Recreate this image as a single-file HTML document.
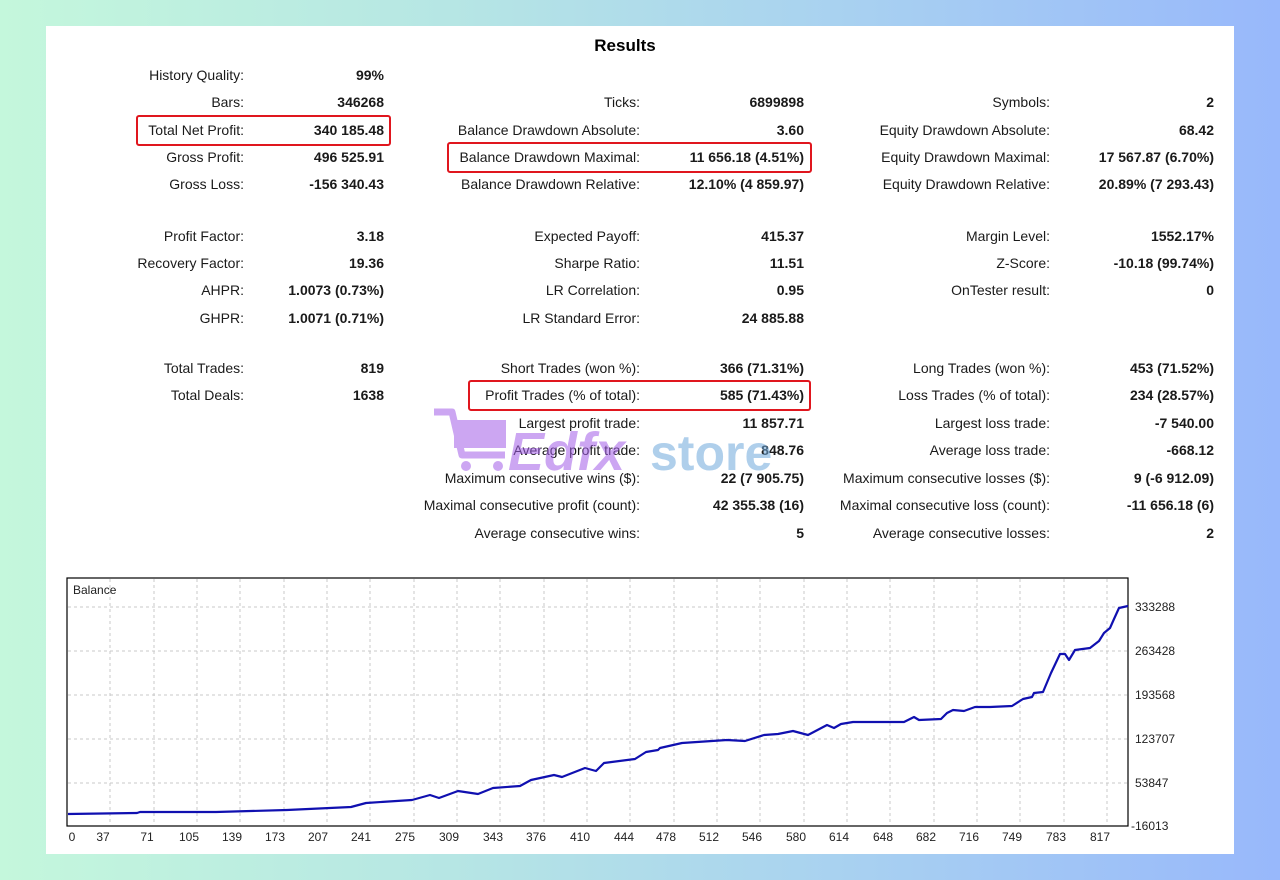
<!DOCTYPE html>
<html><head><meta charset="utf-8"><style>
html,body{margin:0;padding:0;}
body{width:1280px;height:880px;overflow:hidden;background:linear-gradient(90deg,#c4f7dc 0%,#b6e6e4 35%,#a9d2f0 65%,#98b8fb 100%);position:relative;font-family:"Liberation Sans",sans-serif;}
svg{position:absolute;left:0;top:0;}
</style></head><body>
<svg width="1280" height="880" viewBox="0 0 1280 880" font-family="Liberation Sans, sans-serif">
<rect x="46" y="26" width="1188" height="828" fill="#fff"/>
<text x="625" y="51" font-size="17" font-weight="bold" text-anchor="middle" fill="#000">Results</text>
<g font-size="14" fill="#1a1a1a">
<g text-anchor="end">
<text x="244" y="80">History Quality:</text><text x="384" y="80" font-weight="bold">99%</text>
<text x="244" y="107">Bars:</text><text x="384" y="107" font-weight="bold">346268</text>
<text x="244" y="135">Total Net Profit:</text><text x="384" y="135" font-weight="bold">340 185.48</text>
<text x="244" y="162">Gross Profit:</text><text x="384" y="162" font-weight="bold">496 525.91</text>
<text x="244" y="189">Gross Loss:</text><text x="384" y="189" font-weight="bold">-156 340.43</text>
<text x="244" y="241">Profit Factor:</text><text x="384" y="241" font-weight="bold">3.18</text>
<text x="244" y="268">Recovery Factor:</text><text x="384" y="268" font-weight="bold">19.36</text>
<text x="244" y="295">AHPR:</text><text x="384" y="295" font-weight="bold">1.0073 (0.73%)</text>
<text x="244" y="323">GHPR:</text><text x="384" y="323" font-weight="bold">1.0071 (0.71%)</text>
<text x="244" y="373">Total Trades:</text><text x="384" y="373" font-weight="bold">819</text>
<text x="244" y="400">Total Deals:</text><text x="384" y="400" font-weight="bold">1638</text>

<text x="640" y="107">Ticks:</text><text x="804" y="107" font-weight="bold">6899898</text>
<text x="640" y="135">Balance Drawdown Absolute:</text><text x="804" y="135" font-weight="bold">3.60</text>
<text x="640" y="162">Balance Drawdown Maximal:</text><text x="804" y="162" font-weight="bold">11 656.18 (4.51%)</text>
<text x="640" y="189">Balance Drawdown Relative:</text><text x="804" y="189" font-weight="bold">12.10% (4 859.97)</text>
<text x="640" y="241">Expected Payoff:</text><text x="804" y="241" font-weight="bold">415.37</text>
<text x="640" y="268">Sharpe Ratio:</text><text x="804" y="268" font-weight="bold">11.51</text>
<text x="640" y="295">LR Correlation:</text><text x="804" y="295" font-weight="bold">0.95</text>
<text x="640" y="323">LR Standard Error:</text><text x="804" y="323" font-weight="bold">24 885.88</text>
<text x="640" y="373">Short Trades (won %):</text><text x="804" y="373" font-weight="bold">366 (71.31%)</text>
<text x="640" y="400">Profit Trades (% of total):</text><text x="804" y="400" font-weight="bold">585 (71.43%)</text>
<text x="640" y="428">Largest profit trade:</text><text x="804" y="428" font-weight="bold">11 857.71</text>
<text x="640" y="455">Average profit trade:</text><text x="804" y="455" font-weight="bold">848.76</text>
<text x="640" y="483">Maximum consecutive wins ($):</text><text x="804" y="483" font-weight="bold">22 (7 905.75)</text>
<text x="640" y="510">Maximal consecutive profit (count):</text><text x="804" y="510" font-weight="bold">42 355.38 (16)</text>
<text x="640" y="538">Average consecutive wins:</text><text x="804" y="538" font-weight="bold">5</text>

<text x="1050" y="107">Symbols:</text><text x="1214" y="107" font-weight="bold">2</text>
<text x="1050" y="135">Equity Drawdown Absolute:</text><text x="1214" y="135" font-weight="bold">68.42</text>
<text x="1050" y="162">Equity Drawdown Maximal:</text><text x="1214" y="162" font-weight="bold">17 567.87 (6.70%)</text>
<text x="1050" y="189">Equity Drawdown Relative:</text><text x="1214" y="189" font-weight="bold">20.89% (7 293.43)</text>
<text x="1050" y="241">Margin Level:</text><text x="1214" y="241" font-weight="bold">1552.17%</text>
<text x="1050" y="268">Z-Score:</text><text x="1214" y="268" font-weight="bold">-10.18 (99.74%)</text>
<text x="1050" y="295">OnTester result:</text><text x="1214" y="295" font-weight="bold">0</text>
<text x="1050" y="373">Long Trades (won %):</text><text x="1214" y="373" font-weight="bold">453 (71.52%)</text>
<text x="1050" y="400">Loss Trades (% of total):</text><text x="1214" y="400" font-weight="bold">234 (28.57%)</text>
<text x="1050" y="428">Largest loss trade:</text><text x="1214" y="428" font-weight="bold">-7 540.00</text>
<text x="1050" y="455">Average loss trade:</text><text x="1214" y="455" font-weight="bold">-668.12</text>
<text x="1050" y="483">Maximum consecutive losses ($):</text><text x="1214" y="483" font-weight="bold">9 (-6 912.09)</text>
<text x="1050" y="510">Maximal consecutive loss (count):</text><text x="1214" y="510" font-weight="bold">-11 656.18 (6)</text>
<text x="1050" y="538">Average consecutive losses:</text><text x="1214" y="538" font-weight="bold">2</text>
</g></g>
<g fill="none" stroke="#e0161e" stroke-width="2">
<rect x="137" y="116" width="253" height="29" rx="2"/>
<rect x="448" y="143" width="363" height="29" rx="2"/>
<rect x="469" y="381" width="341" height="29" rx="2"/>
</g>
<!-- watermark -->
<g opacity="0.55">
<path d="M434 412 L452 412 L462 455 L505 455" fill="none" stroke="#a35ee8" stroke-width="7" stroke-linejoin="round"/>
<rect x="454" y="420" width="52" height="28" fill="#a35ee8"/>
<circle cx="466" cy="466" r="5" fill="#a35ee8"/><circle cx="498" cy="466" r="5" fill="#a35ee8"/>
<text x="508" y="470" font-size="54" font-weight="bold" font-style="italic" fill="#a35ee8">Edfx</text>
<text x="650" y="470" font-size="50" font-weight="bold" fill="#6fa8dc">store</text>
</g>
<!-- chart -->
<rect x="67" y="578" width="1061" height="248" fill="#fff" stroke="#000" stroke-width="1.2"/>
<g stroke="#c8c8c8" stroke-width="1" stroke-dasharray="3,3">
<line x1="68" x2="1127" y1="607" y2="607"/><line x1="68" x2="1127" y1="651" y2="651"/><line x1="68" x2="1127" y1="695" y2="695"/><line x1="68" x2="1127" y1="739" y2="739"/><line x1="68" x2="1127" y1="783" y2="783"/>
<line x1="110" x2="110" y1="579" y2="825"/><line x1="154" x2="154" y1="579" y2="825"/><line x1="197" x2="197" y1="579" y2="825"/><line x1="240" x2="240" y1="579" y2="825"/><line x1="284" x2="284" y1="579" y2="825"/><line x1="327" x2="327" y1="579" y2="825"/><line x1="370" x2="370" y1="579" y2="825"/><line x1="414" x2="414" y1="579" y2="825"/><line x1="457" x2="457" y1="579" y2="825"/><line x1="500" x2="500" y1="579" y2="825"/><line x1="544" x2="544" y1="579" y2="825"/><line x1="587" x2="587" y1="579" y2="825"/><line x1="630" x2="630" y1="579" y2="825"/><line x1="674" x2="674" y1="579" y2="825"/><line x1="717" x2="717" y1="579" y2="825"/><line x1="760" x2="760" y1="579" y2="825"/><line x1="804" x2="804" y1="579" y2="825"/><line x1="847" x2="847" y1="579" y2="825"/><line x1="890" x2="890" y1="579" y2="825"/><line x1="934" x2="934" y1="579" y2="825"/><line x1="977" x2="977" y1="579" y2="825"/><line x1="1020" x2="1020" y1="579" y2="825"/><line x1="1064" x2="1064" y1="579" y2="825"/><line x1="1107" x2="1107" y1="579" y2="825"/>
</g>
<text x="73" y="594" font-size="12" fill="#222">Balance</text>
<polyline fill="none" stroke="#1010b0" stroke-width="2.2" stroke-linejoin="round" points="68,814 137,813 140,812 216,812 287,810 351,807 366,803 412,800 430,795 439,798 458,791 478,794 493,788 520,786 531,780 554,775 562,777 585,768 596,771 604,763 635,759 646,752 658,750 660,748 682,743 727,740 745,741 764,735 778,734 793,731 808,735 827,725 834,728 841,724 853,722 904,722 914,717 919,720 941,719 947,713 953,710 964,711 975,707 982,707 990,707 1012,706 1023,699 1032,697 1034,693 1043,692 1051,673 1060,654 1065,654 1069,660 1075,650 1090,648 1099,641 1104,633 1110,628 1114,619 1119,608 1128,606"/>
<g font-size="12" fill="#222">
<text x="1135" y="611">333288</text><text x="1135" y="655">263428</text><text x="1135" y="699">193568</text><text x="1135" y="743">123707</text><text x="1135" y="787">53847</text><text x="1131" y="830">-16013</text>
</g>
<g font-size="12" fill="#222" text-anchor="middle">
<text x="72" y="841">0</text><text x="103" y="841">37</text><text x="147" y="841">71</text><text x="189" y="841">105</text><text x="232" y="841">139</text><text x="275" y="841">173</text><text x="318" y="841">207</text><text x="361" y="841">241</text><text x="405" y="841">275</text><text x="449" y="841">309</text><text x="493" y="841">343</text><text x="536" y="841">376</text><text x="580" y="841">410</text><text x="624" y="841">444</text><text x="666" y="841">478</text><text x="709" y="841">512</text><text x="752" y="841">546</text><text x="796" y="841">580</text><text x="839" y="841">614</text><text x="883" y="841">648</text><text x="926" y="841">682</text><text x="969" y="841">716</text><text x="1012" y="841">749</text><text x="1056" y="841">783</text><text x="1100" y="841">817</text>
</g>
</svg>
</body></html>
